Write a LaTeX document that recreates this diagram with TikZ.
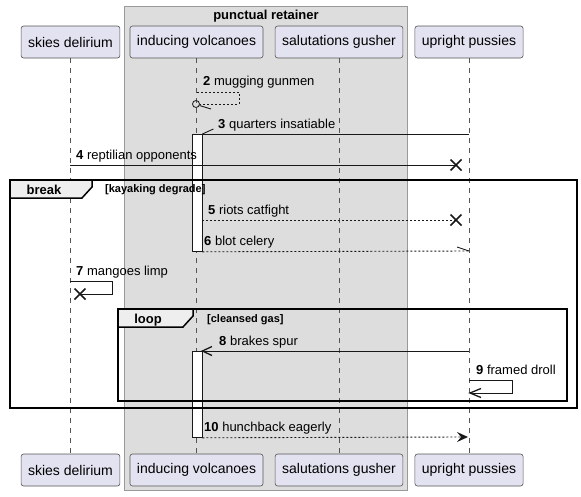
\documentclass[tikz,border=0pt]{standalone}
\usepackage{fontspec}
\setmainfont{Liberation Sans}
\definecolor{partfill}{HTML}{E2E2F0}
\definecolor{partdraw}{HTML}{555555}
\definecolor{grpfill}{HTML}{DDDDDD}
\definecolor{grpdraw}{HTML}{999999}
\definecolor{lifecol}{HTML}{555555}
\definecolor{msgcol}{HTML}{181818}
\definecolor{tabfill}{HTML}{EEEEEE}
\tikzset{
  part/.style={draw=partdraw, fill=partfill, line width=0.6pt, rounded corners=2.5pt,
    minimum height=32pt, inner xsep=7pt, font=\fontsize{14}{16}\selectfont},
  life/.style={draw=lifecol, line width=0.5pt, dash pattern=on 5pt off 5pt},
  actbox/.style={draw=msgcol, fill=white, line width=0.8pt, minimum width=10pt, inner sep=0pt, anchor=north},
  msg/.style={draw=msgcol, line width=0.9pt},
  dmsg/.style={draw=msgcol, line width=0.9pt, dash pattern=on 2pt off 2pt},
  headln/.style={draw=msgcol, line width=1.3pt},
  xmark/.style={draw=msgcol, line width=1.6pt},
  lbl/.style={inner sep=0pt, anchor=base west, font=\fontsize{13}{15}\selectfont, text=black},
  frame/.style={draw=black, line width=1.5pt},
  tab/.style={draw=black, line width=1.5pt, fill=tabfill},
  fraglbl/.style={inner sep=0pt, anchor=base, font=\fontsize{13}{15}\selectfont\bfseries},
  condlbl/.style={inner sep=0pt, anchor=base west, font=\fontsize{11}{13}\selectfont\bfseries},
}
\begin{document}
\begin{tikzpicture}[x=1pt,y=-1pt]
\useasboundingbox (0,0) rectangle (581,496);
% group box
\draw[draw=grpdraw, fill=grpfill, line width=0.8pt] (124,6) rectangle (407,490);
\node[inner sep=0pt, anchor=base, font=\fontsize{13}{15}\selectfont\bfseries] (grptitle) at (266,19) {punctual retainer};
% participants
\node[part] (skT) at (70.5,42) {skies delirium};
\node[part] (ivT) at (196.5,42) {inducing volcanoes};
\node[part] (sgT) at (339,42) {salutations gusher};
\node[part] (upT) at (469,42) {upright pussies};
\node[part] (skB) at (70.5,470) {skies delirium};
\node[part] (ivB) at (196.5,470) {inducing volcanoes};
\node[part] (sgB) at (339,470) {salutations gusher};
\node[part] (upB) at (469,470) {upright pussies};
% lifelines
\draw[life] (skT.south) -- (skB.north);
\draw[life] (ivT.south) -- (ivB.north);
\draw[life] (sgT.south) -- (sgB.north);
\draw[life] (upT.south) -- (upB.north);
% activations
\node[actbox, minimum height=117pt] (a1) at (197,134) {};
\node[actbox, minimum height=86pt] (a2) at (197,351) {};
% fragments
\draw[frame] (10,180) rectangle (577,408);
\filldraw[tab] (10,180) -- (92,180) -- (92,187) -- (82,198) -- (10,198) -- cycle;
\node[fraglbl] (brk) at (44,194) {break};
\node[condlbl] (brkc) at (105,192) {[kayaking degrade]};
\draw[frame] (118,309) rectangle (567,401);
\filldraw[tab] (118,309) -- (193,309) -- (193,316) -- (183,327) -- (118,327) -- cycle;
\node[fraglbl] (lp) at (148,323) {loop};
\node[condlbl] (lpc) at (207,322) {[cleansed gas]};
% message 2
\coordinate (m2a) at (197,92);
\coordinate (m2c) at (196,104);
\draw[dmsg] (m2a) -- (239,92) -- (239,104) -- (200,104);
\draw[msg, line width=0.8pt] (m2c) circle (3.5);
\draw[msg] (199.5,105.5) -- (211,109);
\node[lbl] (l2) at (203,85) {\textbf{2} mugging gunmen};
% message 3
\draw[msg] (upT |- a1.north east) -- (a1.north east);
\draw[msg] (a1.north east) -- ++(11,-5);
\node[lbl] (l3) at (218,128) {\textbf{3} quarters insatiable};
% message 4
\coordinate (m4a) at (70,165);
\coordinate (m4x) at (456,165);
\draw[msg] (m4a) -- (m4x);
\draw[xmark] (m4x) ++(-5.5,-5.5) -- ++(11,11) ++(0,-11) -- ++(-11,11);
\node[lbl] (l4) at (76,159) {\textbf{4} reptilian opponents};
% message 5
\coordinate (m5a) at (202,220);
\coordinate (m5x) at (456,220);
\draw[dmsg] (m5a) -- (m5x);
\draw[xmark] (m5x) ++(-5.5,-5.5) -- ++(11,11) ++(0,-11) -- ++(-11,11);
\node[lbl] (l5) at (208,214) {\textbf{5} riots catfight};
% message 6
\coordinate (m6b) at (469,251);
\draw[dmsg] (a1.south east) -- (m6b);
\draw[msg] (m6b) -- ++(-12,-4);
\node[lbl] (l6) at (204,245) {\textbf{6} blot celery};
% message 7
\coordinate (m7a) at (70,281);
\coordinate (m7x) at (80,294);
\draw[msg] (m7a) -- (112,281) -- (112,294) -- (m7x);
\draw[xmark] (m7x) ++(-5.5,-5.5) -- ++(11,11) ++(0,-11) -- ++(-11,11);
\node[lbl] (l7) at (76,275) {\textbf{7} mangoes limp};
% message 8
\draw[msg] (upT |- a2.north east) -- (a2.north east);
\draw[headln] (212,346.5) -- (a2.north east) -- (212,355.5);
\node[lbl] (l8) at (219,345) {\textbf{8} brakes spur};
% message 9
\coordinate (m9a) at (469,380);
\coordinate (m9b) at (470,393);
\draw[msg] (m9a) -- (512,380) -- (512,393) -- (m9b);
\draw[headln] (481,388.5) -- (m9b) -- (481,397.5);
\node[lbl] (l9) at (476,374) {\textbf{9} framed droll};
% message 10
\coordinate (m10b) at (468,437);
\draw[dmsg] (a2.south east) -- (460,437);
\fill[msgcol] (m10b) -- (457,432) -- (461,437) -- (457,442) -- cycle;
\node[lbl] (l10) at (204,431) {\textbf{10} hunchback eagerly};
\end{tikzpicture}
\end{document}
